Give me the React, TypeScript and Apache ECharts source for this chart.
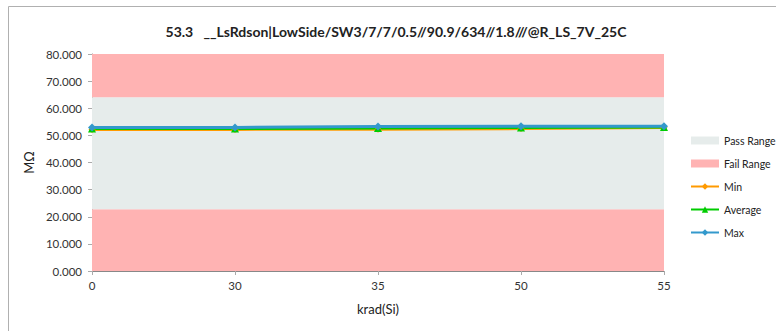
import React, { useEffect, useRef } from "react";
import * as echarts from "echarts";

const categories = ["0", "30", "35", "50", "55"];
const minValues = [52.2, 52.2, 52.3, 52.5, 52.9];
const avgValues = [52.5, 52.5, 52.7, 52.9, 53.1];
const maxValues = [52.9, 52.9, 53.3, 53.4, 53.4];
const passLow = 22.8;
const passHigh = 64.1;
const axisMax = 80;
const yTicks = [0, 10, 20, 30, 40, 50, 60, 70, 80];

const FONT = "Lato, 'Open Sans', sans-serif";

export default function App() {
  const ref = useRef<HTMLDivElement>(null);
  useEffect(() => {
    if (!ref.current) return;
    const chart = echarts.init(ref.current, undefined, { renderer: "svg" });
    const lowFail = categories.map(() => passLow);
    const pass = categories.map(() => passHigh - passLow);
    const highFail = categories.map(() => axisMax - passHigh);
    const passColor = "#E6ECEB";
    const failColor = "#FFB3B3";
    const areaSeries = (name: string, data: number[], color: string) => ({
      name,
      type: "line",
      stack: "range",
      data,
      symbol: "none",
      lineStyle: { width: 0, opacity: 0 },
      areaStyle: { color, opacity: 1 },
      itemStyle: { color },
      silent: true,
      z: 1,
    });
    const lineSeries = (name: string, data: number[], color: string, symbol: string, size: number) => ({
      name,
      type: "line",
      data,
      symbol,
      symbolSize: size,
      lineStyle: { width: 3, color },
      itemStyle: { color },
      z: 5,
    });
    chart.setOption({
      animation: false,
      backgroundColor: "#ffffff",
      title: {
        text: "53.3   __LsRdson|LowSide/SW3/7/7/0.5//90.9/634//1.8///@R_LS_7V_25C",
        left: 391,
        top: 19,
        textAlign: "center",
        textStyle: { fontFamily: FONT, fontSize: 14, fontWeight: "bold", color: "#222" },
      },
      graphic: [
        {
          type: "rect",
          shape: { x: 8.5, y: 6.5, width: 800, height: 400 },
          style: { fill: "none", stroke: "#B0B0B0", lineWidth: 1 },
          silent: true,
        },
      ],
      grid: { left: 92, right: 112, top: 54, bottom: 60 },
      legend: {
        orient: "vertical",
        left: 690,
        top: 135,
        padding: 0,
        itemGap: 12,
        itemWidth: 28,
        itemHeight: 8,
        textStyle: { fontFamily: FONT, fontSize: 10.5, color: "#222" },
        data: [
          { name: "Pass Range", icon: "rect", itemStyle: { color: passColor } },
          { name: "Fail Range", icon: "rect", itemStyle: { color: failColor } },
          { name: "Min" },
          { name: "Average" },
          { name: "Max" },
        ],
      },
      xAxis: {
        type: "category",
        data: categories,
        boundaryGap: false,
        name: "krad(Si)",
        nameLocation: "middle",
        nameGap: 31,
        nameTextStyle: { fontFamily: FONT, fontSize: 13, color: "#222" },
        axisLine: { lineStyle: { color: "#888", width: 1 } },
        axisTick: { show: true, length: 4, lineStyle: { color: "#aaa" } },
        axisLabel: { fontFamily: FONT, fontSize: 11.5, color: "#333", margin: 8 },
        splitLine: { show: false },
      },
      yAxis: {
        type: "value",
        min: 0,
        max: axisMax,
        interval: 10,
        name: "MΩ",
        nameLocation: "middle",
        nameGap: 48,
        nameRotate: 90,
        nameTextStyle: { fontFamily: FONT, fontSize: 13, color: "#222" },
        axisLine: { show: true, lineStyle: { color: "#888", width: 1 } },
        axisTick: { show: true, length: 4, lineStyle: { color: "#aaa" } },
        axisLabel: {
          fontFamily: FONT,
          fontSize: 11.5,
          color: "#333",
          margin: 10,
          formatter: (v: number) => (yTicks.includes(v) ? v.toFixed(3) : ""),
        },
        splitLine: { show: false },
      },
      series: [
        areaSeries("Fail Range", lowFail, failColor),
        areaSeries("Pass Range", pass, passColor),
        areaSeries("Fail Range", highFail, failColor),
        lineSeries("Min", minValues, "#FF9A00", "diamond", 7),
        lineSeries("Average", avgValues, "#00CC00", "triangle", 8),
        lineSeries("Max", maxValues, "#3399CC", "diamond", 8),
      ],
    });
    return () => chart.dispose();
  }, []);
  return (
    <div
      ref={ref}
      style={{ position: "absolute", left: 0, top: 0, width: 776, height: 331 }}
    />
  );
}
